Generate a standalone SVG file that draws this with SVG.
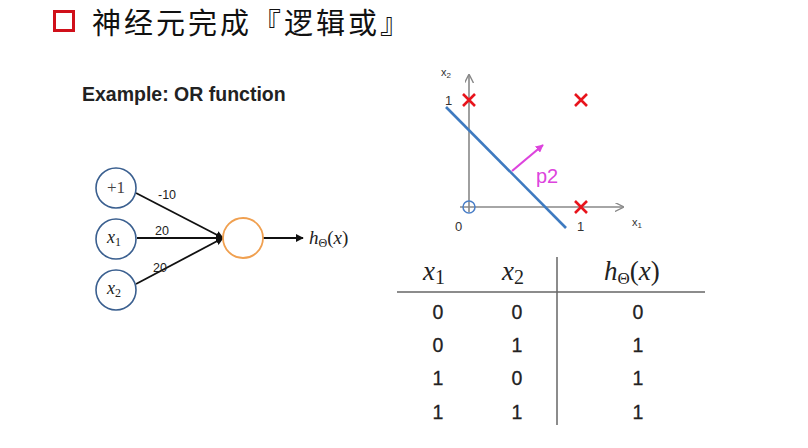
<svg xmlns="http://www.w3.org/2000/svg" width="808" height="448" viewBox="0 0 808 448">
<style>
.math{font-family:"Liberation Serif","DejaVu Serif",serif;font-style:italic;fill:#222}
.sub{font-family:"Liberation Serif","DejaVu Serif",serif;font-style:normal}
.num{font-family:"Liberation Sans",Arial,sans-serif;fill:#222}
.in{fill:#fff;stroke:#3a5f8f;stroke-width:1.6}
.gr{stroke:#888;stroke-width:1.6;fill:none}
.rx{stroke:#e8141c;stroke-width:2.6}
</style>
<defs>
<marker id="ah" viewBox="0 0 10 10" refX="9" refY="5" markerWidth="8" markerHeight="8" markerUnits="userSpaceOnUse" orient="auto"><path d="M0,0 L10,5 L0,10 z" fill="#111"/></marker>
<marker id="ag" viewBox="0 0 10 10" refX="9" refY="5" markerWidth="9" markerHeight="9" markerUnits="userSpaceOnUse" orient="auto"><path d="M0,0 L10,5 L0,10" fill="none" stroke="#888" stroke-width="1.5"/></marker>
<marker id="am" viewBox="0 0 10 10" refX="9" refY="5" markerWidth="8" markerHeight="8" markerUnits="userSpaceOnUse" orient="auto"><path d="M0,0 L10,5 L0,10 z" fill="#dd44dd"/></marker>
</defs>
<rect width="808" height="448" fill="#fff"/>
<g id="title">
<rect x="54.5" y="11.5" width="19" height="19" fill="none" stroke="#d0101a" stroke-width="3"/>
<text x="92" y="34" font-family="'Noto Sans CJK SC',sans-serif" font-size="29" letter-spacing="3" fill="#111">神经元完成『逻辑或』</text>
</g>
<text x="82" y="101" font-family="'Liberation Sans',Arial,sans-serif" font-weight="bold" font-size="19.5" fill="#222">Example: OR function</text>
<g id="connectors" fill="none" stroke="#111" stroke-width="1.8">
<line x1="136" y1="193" x2="223" y2="238" marker-end="url(#ah)"/>
<line x1="137" y1="238" x2="223" y2="238" marker-end="url(#ah)"/>
<line x1="136" y1="284" x2="223" y2="238" marker-end="url(#ah)"/>
<line x1="263" y1="238" x2="303" y2="238" marker-end="url(#ah)"/>
</g>
<g class="num" font-size="12.5">
<text x="158" y="199">-10</text>
<text x="155" y="235">20</text>
<text x="153" y="272">20</text>
</g>
<g id="n_bias"><circle class="in" cx="116" cy="188" r="20"/><text class="sub" x="116" y="193" font-size="17" text-anchor="middle" fill="#444">+1</text></g>
<g id="n_x1"><circle class="in" cx="116" cy="239" r="20"/><text class="math" x="107" y="243" font-size="18" fill="#444">x<tspan class="sub" font-size="12" dy="3">1</tspan></text></g>
<g id="n_x2"><circle class="in" cx="116" cy="290" r="20"/><text class="math" x="107" y="294" font-size="18" fill="#444">x<tspan class="sub" font-size="12" dy="3">2</tspan></text></g>
<g id="n_out"><circle cx="243" cy="238" r="20" fill="#fff" stroke="#f0a050" stroke-width="1.8"/></g>
<text class="math" x="309" y="244" font-size="19">h<tspan class="sub" font-size="12" dy="3">Θ</tspan><tspan class="sub" dy="-3">(</tspan>x<tspan class="sub">)</tspan></text>
<g id="plot">
<line class="gr" x1="469" y1="212" x2="469" y2="75" marker-end="url(#ag)"/>
<line class="gr" x1="460" y1="207" x2="623" y2="207" marker-end="url(#ag)"/>
<g font-family="'Liberation Sans',Arial,sans-serif" fill="#333">
<text x="441" y="76" font-size="11">x<tspan font-size="8" dy="2">2</tspan></text>
<text x="445" y="105" font-size="13">1</text>
<text x="455" y="231" font-size="13">0</text>
<text x="577" y="231" font-size="13">1</text>
<text x="632" y="226" font-size="11">x<tspan font-size="8" dy="2">1</tspan></text>
</g>
<circle cx="469" cy="207" r="6" fill="none" stroke="#4a7fc8" stroke-width="1.5"/>
<path class="rx" d="M463,94 L475,106 M475,94 L463,106 M575,94 L587,106 M587,94 L575,106 M575,201 L587,213 M587,201 L575,213"/>
<line x1="446" y1="107" x2="566" y2="228" stroke="#3e7ac0" stroke-width="2.6"/>
<line x1="512" y1="171" x2="543" y2="145" stroke="#dd44dd" stroke-width="2.2" marker-end="url(#am)"/>
<text x="536" y="183" font-family="'Liberation Sans',Arial,sans-serif" font-size="20" fill="#dd44dd">p2</text>
</g>
<g id="table">
<line x1="397" y1="292" x2="705" y2="292" stroke="#666" stroke-width="1.5"/>
<line x1="557" y1="257" x2="557" y2="425" stroke="#666" stroke-width="1.5"/>
<text class="math" x="423" y="280" font-size="27">x<tspan class="sub" font-size="20" dy="4">1</tspan></text>
<text class="math" x="502" y="280" font-size="27">x<tspan class="sub" font-size="20" dy="4">2</tspan></text>
<text class="math" x="604" y="280" font-size="27">h<tspan class="sub" font-size="17" dy="4">Θ</tspan><tspan class="sub" dy="-4">(</tspan>x<tspan class="sub">)</tspan></text>
<g class="num" font-size="19.5" text-anchor="middle" stroke="#222" stroke-width="0.3">
<text x="438" y="319">0</text><text x="517" y="319">0</text><text x="638" y="319">0</text>
<text x="438" y="352">0</text><text x="517" y="352">1</text><text x="638" y="352">1</text>
<text x="438" y="385">1</text><text x="517" y="385">0</text><text x="638" y="385">1</text>
<text x="438" y="419">1</text><text x="517" y="419">1</text><text x="638" y="419">1</text>
</g>
</g>
</svg>
